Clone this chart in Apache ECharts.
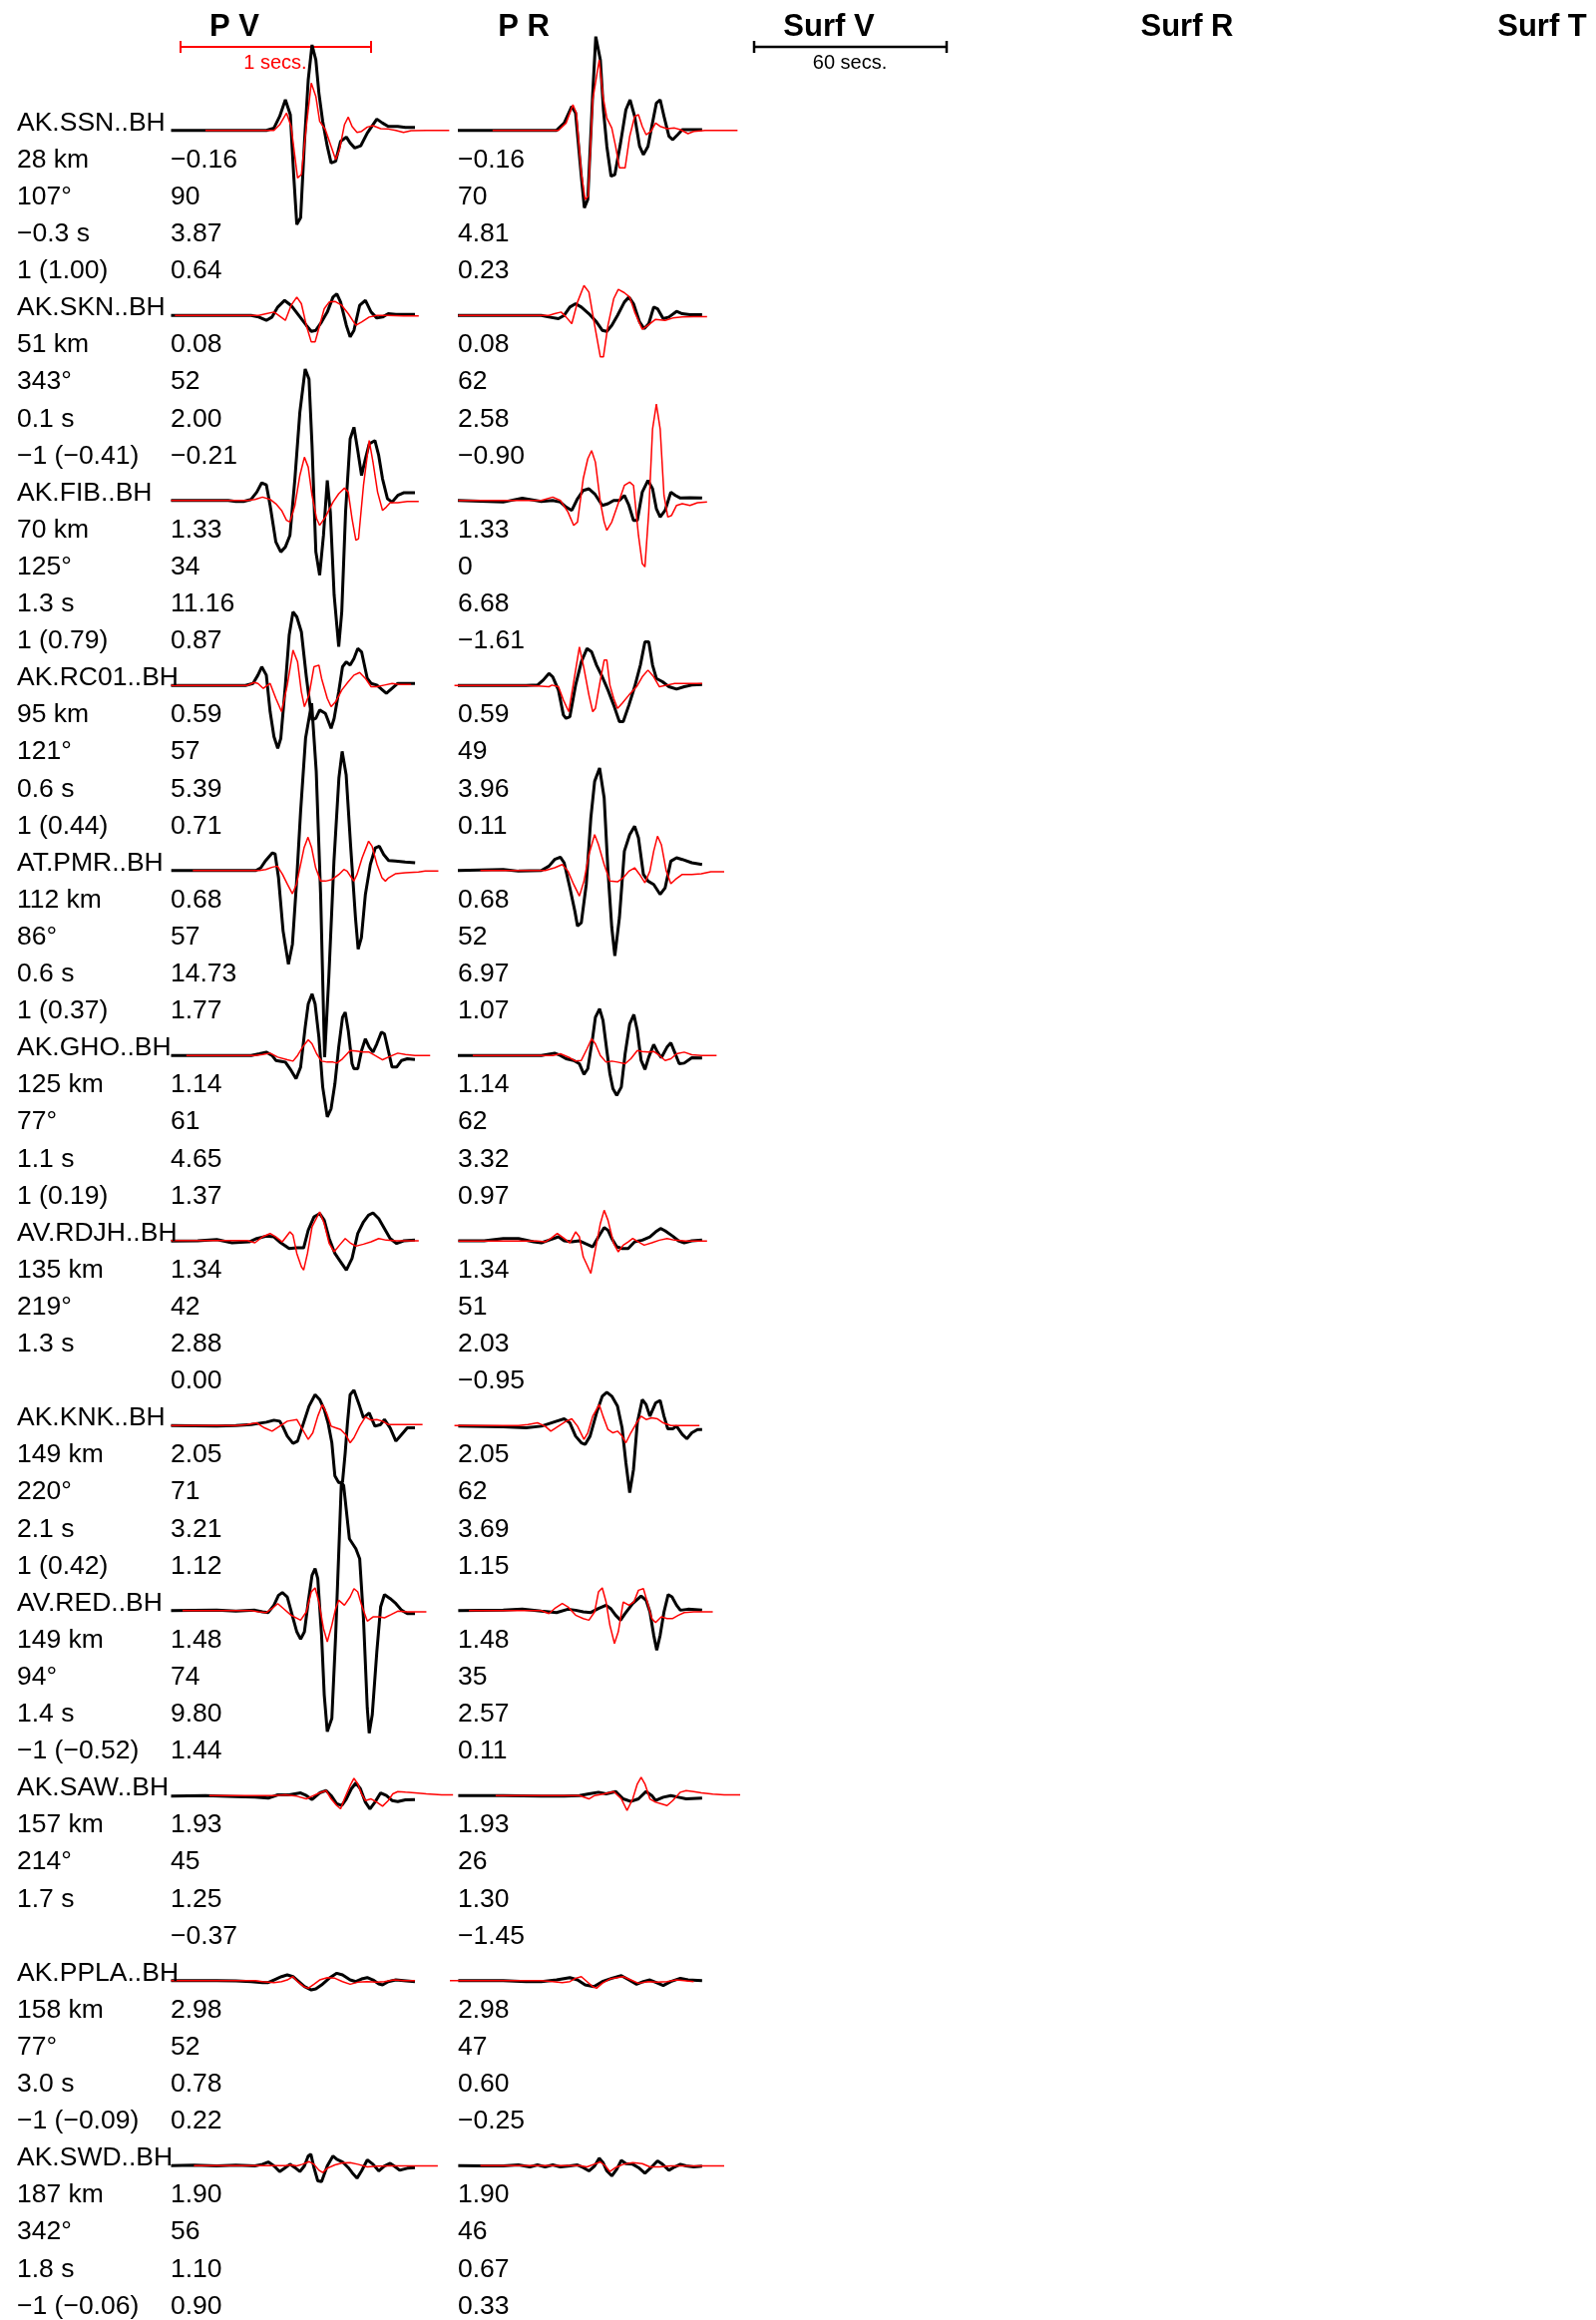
<!DOCTYPE html>
<html>
<head>
<meta charset="utf-8">
<script src="https://cdn.jsdelivr.net/npm/echarts@6/dist/echarts.min.js"></script>
<style>
html,body{margin:0;padding:0;background:#fff;}
#chart{width:1600px;height:2326px;}
</style>
</head>
<body>
<div id="chart"></div>
<script>
// ---------- text data ----------
const stations  = ['AK.SSN..BH','AK.SKN..BH','AK.FIB..BH','AK.RC01..BH','AT.PMR..BH','AK.GHO..BH','AV.RDJH..BH','AK.KNK..BH','AV.RED..BH','AK.SAW..BH','AK.PPLA..BH','AK.SWD..BH'];
const distances = ['28 km','51 km','70 km','95 km','112 km','125 km','135 km','149 km','149 km','157 km','158 km','187 km'];
const azimuths  = ['107°','343°','125°','121°','86°','77°','219°','220°','94°','214°','77°','342°'];
const shifts    = ['−0.3 s','0.1 s','1.3 s','0.6 s','0.6 s','1.1 s','1.3 s','2.1 s','1.4 s','1.7 s','3.0 s','1.8 s'];
const polarity  = ['1 (1.00)','−1 (−0.41)','1 (0.79)','1 (0.44)','1 (0.37)','1 (0.19)','','1 (0.42)','−1 (−0.52)','','−1 (−0.09)','−1 (−0.06)'];
const pvVals = [['−0.16','90','3.87','0.64'],['0.08','52','2.00','−0.21'],['1.33','34','11.16','0.87'],['0.59','57','5.39','0.71'],['0.68','57','14.73','1.77'],['1.14','61','4.65','1.37'],['1.34','42','2.88','0.00'],['2.05','71','3.21','1.12'],['1.48','74','9.80','1.44'],['1.93','45','1.25','−0.37'],['2.98','52','0.78','0.22'],['1.90','56','1.10','0.90']];
const prVals = [['−0.16','70','4.81','0.23'],['0.08','62','2.58','−0.90'],['1.33','0','6.68','−1.61'],['0.59','49','3.96','0.11'],['0.68','52','6.97','1.07'],['1.14','62','3.32','0.97'],['1.34','51','2.03','−0.95'],['2.05','62','3.69','1.15'],['1.48','35','2.57','0.11'],['1.93','26','1.30','−1.45'],['2.98','47','0.60','−0.25'],['1.90','46','0.67','0.33']];
const headers = ['P V','P R','Surf V','Surf R','Surf T'];

// ---------- waveform data: [time ms, amplitude] ----------
const SSN_PV_OBS=[[0,0],[500,0],[540,7],[570,42],[600,92],[626,47],[644,-138],[660,-283],[680,-263],[700,-38],[720,152],[740,257],[760,212],[776,112],[796,27],[820,-48],[840,-98],[864,-93],[890,-33],[920,-20],[940,-38],[964,-53],[996,-46],[1030,-8],[1080,34],[1110,22],[1140,12],[1190,12],[1230,9],[1280,9]];
const SSN_PV_SYN=[[180,0],[540,0],[570,17],[606,52],[630,12],[664,-143],[684,-133],[710,12],[736,142],[760,102],[780,27],[810,2],[840,-48],[864,-88],[884,-58],[910,17],[930,40],[950,12],[976,-6],[1000,-3],[1030,10],[1060,14],[1100,5],[1140,4],[1180,0],[1220,-6],[1260,-1],[1340,0],[1460,0]];
const SSN_PR_OBS=[[0,0],[518,0],[558,22],[598,72],[618,52],[648,-138],[664,-233],[682,-208],[708,112],[724,282],[748,212],[764,62],[782,-48],[804,-138],[824,-133],[854,-38],[882,62],[904,92],[928,42],[954,-48],[974,-73],[998,-48],[1018,12],[1042,82],[1062,92],[1082,42],[1108,-18],[1128,-28],[1154,-13],[1178,2],[1218,2],[1282,2]];
const SSN_PR_SYN=[[182,0],[528,0],[568,22],[604,77],[622,52],[648,-128],[668,-208],[684,-198],[708,92],[742,212],[762,102],[782,37],[808,7],[828,-48],[848,-113],[878,-113],[902,-18],[928,42],[948,47],[968,12],[988,-13],[1014,-3],[1038,22],[1062,12],[1098,5],[1138,7],[1168,2],[1208,-10],[1238,-3],[1298,0],[1468,0]];

const SKN_PV_OBS=[[0,0],[420,0],[460,-5],[500,-15],[530,-5],[560,25],[596,45],[630,30],[670,0],[710,-30],[736,-48],[760,-45],[790,-20],[820,10],[850,55],[870,65],[890,40],[920,-30],[940,-65],[960,-45],[990,30],[1020,45],[1050,10],[1080,-8],[1110,-5],[1140,5],[1180,3],[1280,3]];
const SKN_PV_SYN=[[20,0],[460,0],[500,5],[540,10],[564,0],[600,-15],[630,30],[660,55],[684,35],[710,-30],[736,-80],[756,-80],[780,-30],[804,20],[830,40],[860,42],[896,30],[930,5],[970,-30],[1000,-20],[1040,-5],[1080,0],[1140,0],[1220,-2],[1300,-2]];
const SKN_PR_OBS=[[0,0],[438,0],[478,-5],[528,-10],[558,0],[588,25],[618,35],[648,25],[688,5],[728,-20],[758,-45],[782,-48],[808,-30],[838,0],[874,40],[898,55],[922,35],[954,-20],[978,-40],[1002,-25],[1028,25],[1048,20],[1078,-10],[1108,-5],[1148,12],[1178,5],[1218,2],[1282,2]];
const SKN_PR_SYN=[[2,0],[478,0],[508,5],[542,10],[568,-5],[598,-25],[628,40],[662,90],[688,70],[718,-30],[748,-125],[764,-125],[788,-30],[818,50],[842,78],[874,68],[902,55],[928,10],[968,-42],[998,-30],[1038,-12],[1088,-15],[1128,-8],[1178,-5],[1238,-4],[1308,-4]];

const FIB_PV_OBS=[[0,0],[300,0],[340,-3],[380,-3],[420,3],[450,25],[476,53],[500,47],[520,-15],[550,-125],[576,-155],[600,-140],[624,-105],[650,65],[676,265],[704,395],[724,365],[740,165],[760,-155],[780,-225],[800,-105],[820,60],[836,-35],[856,-285],[880,-440],[896,-335],[916,-35],[940,185],[960,220],[980,150],[1000,75],[1020,125],[1040,170],[1070,180],[1090,135],[1110,65],[1136,5],[1160,-5],[1190,15],[1220,23],[1280,23]];
const FIB_PV_SYN=[[0,0],[400,0],[440,3],[480,10],[520,3],[550,-10],[580,-30],[606,-60],[624,-65],[650,-15],[676,75],[700,130],[720,100],[740,15],[764,-55],[780,-75],[810,-50],[850,-5],[880,20],[910,37],[930,25],[950,-55],[970,-120],[984,-115],[1010,45],[1040,180],[1060,115],[1084,25],[1110,-30],[1130,-20],[1150,-7],[1190,-7],[1240,-3],[1300,-3]];
const FIB_PR_OBS=[[0,0],[238,-5],[338,7],[438,-3],[498,0],[538,-5],[568,-20],[598,-30],[628,5],[658,30],[688,35],[718,20],[758,-15],[788,-10],[818,0],[848,0],[874,15],[898,-15],[922,-60],[942,-60],[968,25],[998,60],[1022,35],[1042,-25],[1062,-50],[1088,-30],[1118,25],[1142,15],[1168,7],[1218,8],[1282,7]];
const FIB_PR_SYN=[[2,0],[438,0],[498,10],[538,0],[578,-35],[608,-75],[628,-65],[658,65],[682,125],[702,150],[722,115],[748,-5],[768,-65],[782,-90],[808,-65],[838,-15],[874,45],[902,55],[922,45],[948,-105],[968,-190],[982,-200],[1002,-35],[1022,215],[1042,290],[1062,215],[1082,15],[1102,-50],[1122,-45],[1148,-15],[1178,-10],[1218,-15],[1258,-7],[1308,-5]];

const RC01_PV_OBS=[[0,0],[390,0],[430,6],[456,31],[476,56],[500,31],[520,-79],[540,-154],[560,-189],[576,-159],[600,1],[620,151],[640,221],[660,206],[684,161],[710,26],[730,-64],[740,-104],[760,-99],[780,-74],[810,-84],[840,-129],[856,-99],[880,-19],[900,56],[920,71],[940,61],[960,81],[980,111],[1000,101],[1030,21],[1050,6],[1080,1],[1110,-14],[1130,-24],[1160,-9],[1190,6],[1280,6]];
const RC01_PV_SYN=[[0,0],[400,0],[436,9],[456,6],[484,-9],[520,6],[550,-39],[580,-79],[610,1],[640,106],[664,71],[684,-19],[700,-64],[724,-29],[750,56],[776,61],[790,21],[820,-39],[840,-64],[864,-49],[896,-14],[930,11],[960,31],[990,39],[1020,21],[1050,-4],[1080,-4],[1120,1],[1160,6],[1200,3],[1260,3]];
const RC01_PR_OBS=[[0,0],[358,0],[418,1],[448,16],[478,36],[498,26],[528,-14],[554,-89],[568,-99],[588,-94],[618,1],[648,71],[678,111],[702,101],[728,61],[758,26],[788,-14],[818,-59],[848,-109],[868,-109],[898,-59],[928,-4],[958,61],[982,131],[1002,131],[1022,61],[1042,21],[1074,11],[1108,-4],[1148,-11],[1188,-4],[1228,1],[1282,3]];
const RC01_PR_SYN=[[-18,0],[358,0],[418,-2],[478,-4],[494,1],[528,-4],[554,-44],[582,-79],[608,11],[638,116],[662,51],[688,-29],[708,-79],[722,-69],[748,16],[768,76],[782,76],[798,1],[818,-39],[838,-69],[862,-54],[898,-29],[938,-4],[968,26],[998,46],[1028,26],[1058,-4],[1098,1],[1138,6],[1198,6],[1282,6]];

const PMR_PV_OBS=[[1,0],[445,0],[471,8],[497,30],[532,53],[546,50],[564,-22],[588,-182],[616,-282],[637,-222],[658,-42],[680,178],[706,398],[738,503],[762,298],[785,-72],[806,-562],[828,-322],[855,28],[881,278],[898,358],[919,288],[942,78],[968,-142],[982,-237],[999,-202],[1020,-72],[1046,18],[1072,68],[1093,73],[1116,48],[1142,30],[1177,28],[1229,25],[1281,23]];
const PMR_PV_SYN=[[114,0],[463,0],[497,3],[532,10],[558,13],[585,-12],[611,-42],[637,-70],[658,-42],[680,18],[698,68],[719,100],[738,68],[759,8],[785,-32],[811,-32],[846,-27],[881,-12],[907,3],[924,-2],[947,-22],[959,-32],[976,-12],[1003,38],[1037,88],[1055,73],[1081,18],[1107,-22],[1125,-32],[1142,-22],[1177,-10],[1229,-7],[1299,-5],[1334,-2],[1403,-2]];
const PMR_PR_OBS=[[0,0],[238,3],[318,-2],[438,0],[478,13],[508,33],[538,40],[558,23],[588,-52],[614,-122],[628,-167],[648,-157],[674,-42],[698,158],[718,268],[744,308],[768,218],[788,-2],[808,-172],[824,-257],[848,-142],[874,58],[902,108],[928,133],[948,98],[974,-12],[998,-32],[1028,-42],[1062,-72],[1088,-52],[1118,28],[1148,38],[1178,33],[1228,23],[1282,18]];
const PMR_PR_SYN=[[118,0],[458,0],[508,8],[548,18],[578,-2],[608,-42],[638,-77],[662,-32],[688,48],[718,108],[738,78],[768,18],[798,-32],[838,-34],[868,-22],[898,-2],[928,8],[954,-12],[982,-37],[1008,-2],[1028,58],[1048,103],[1068,78],[1094,-2],[1118,-40],[1142,-27],[1178,-12],[1228,-12],[1278,-10],[1328,-4],[1398,-4]];

const GHO_PV_OBS=[[0,0],[420,0],[464,5],[500,10],[530,0],[550,-15],[580,-18],[600,-20],[630,-45],[656,-70],[680,-35],[704,85],[720,155],[740,185],[756,155],[776,55],[796,-95],[820,-185],[840,-160],[860,-85],[880,25],[900,115],[914,130],[930,75],[950,-25],[960,-40],[980,-40],[1000,15],[1020,50],[1040,25],[1060,10],[1080,35],[1104,70],[1120,65],[1140,15],[1160,-35],[1184,-35],[1210,-15],[1240,-10],[1280,-12]];
const GHO_PV_SYN=[[80,0],[440,0],[480,3],[520,7],[560,-5],[610,-13],[640,-17],[664,0],[690,25],[720,47],[740,35],[764,5],[790,-17],[820,-20],[850,-20],[870,-23],[900,-10],[940,15],[970,13],[1010,10],[1040,10],[1070,0],[1110,-13],[1140,-5],[1190,7],[1230,3],[1280,0],[1360,0]];
const GHO_PR_OBS=[[0,0],[438,0],[508,7],[538,0],[568,-10],[608,-15],[638,-25],[662,-57],[682,-40],[708,55],[722,115],[744,140],[762,105],[782,15],[798,-55],[814,-100],[834,-120],[858,-95],[878,5],[902,95],[924,123],[942,75],[962,-15],[982,-42],[1002,-5],[1028,33],[1048,10],[1068,-7],[1098,25],[1118,38],[1138,10],[1162,-25],[1188,-23],[1228,-7],[1282,-8]];
const GHO_PR_SYN=[[78,0],[498,0],[538,5],[588,-7],[618,-17],[648,-15],[678,20],[702,50],[722,35],[748,0],[778,-20],[808,-17],[838,-20],[878,-25],[908,-10],[942,15],[968,12],[998,10],[1028,12],[1058,0],[1088,-15],[1118,-10],[1148,5],[1188,10],[1228,2],[1278,0],[1358,0]];

const RDJH_PV_OBS=[[0,-2],[140,-1],[240,3],[320,-7],[410,-4],[450,6],[500,13],[540,11],[576,-7],[620,-24],[660,-22],[696,-22],[720,31],[750,71],[780,81],[804,61],[830,6],[860,-39],[890,-64],[920,-89],[950,-54],[980,21],[1010,56],[1036,76],[1060,83],[1090,66],[1120,36],[1150,6],[1184,-9],[1220,-1],[1280,1]];
const RDJH_PV_SYN=[[0,0],[400,0],[440,-7],[480,11],[520,21],[550,11],[584,-4],[624,26],[640,16],[660,-39],[684,-79],[696,-89],[716,-39],[740,41],[780,86],[804,51],[830,-9],[856,-34],[884,-14],[914,6],[940,-7],[970,-17],[1010,-11],[1050,-4],[1090,6],[1130,1],[1180,-1],[1300,-1]];
const RDJH_PR_OBS=[[2,-1],[138,-1],[238,6],[318,6],[398,-4],[438,-7],[478,1],[528,11],[558,-1],[598,-4],[638,-1],[668,-9],[708,-19],[738,11],[768,39],[788,31],[808,6],[834,-19],[862,-24],[894,-24],[928,-4],[968,1],[1008,11],[1038,26],[1064,36],[1088,29],[1128,13],[1158,-1],[1188,-7],[1228,-1],[1282,1]];
const RDJH_PR_SYN=[[2,-2],[418,-2],[458,-4],[488,6],[522,21],[558,6],[588,-7],[618,26],[638,11],[658,-49],[682,-79],[698,-99],[718,-39],[748,51],[768,91],[788,61],[818,-9],[842,-34],[868,-14],[894,-4],[918,6],[948,-4],[978,-14],[1018,-7],[1058,1],[1098,6],[1138,1],[1198,-2],[1308,-2]];

const KNK_PV_OBS=[[0,0],[240,-2],[340,0],[420,3],[500,10],[540,16],[570,13],[590,-7],[610,-32],[640,-54],[664,-47],[690,-2],[724,58],[756,93],[780,78],[804,48],[824,8],[844,-52],[860,-152],[880,-172],[900,-170],[914,-82],[926,8],[940,93],[960,106],[990,58],[1010,23],[1040,38],[1070,-2],[1100,3],[1120,18],[1150,-7],[1180,-47],[1210,-27],[1240,-7],[1280,-7]];
const KNK_PV_SYN=[[0,0],[340,0],[400,3],[450,8],[490,-7],[530,-17],[570,-2],[610,13],[660,18],[690,-12],[720,-42],[744,-22],[770,28],[794,63],[816,38],[840,-2],[864,-7],[890,-12],[916,-27],[940,-52],[960,-37],[990,-2],[1020,26],[1050,16],[1080,18],[1110,13],[1140,3],[1180,3],[1240,3],[1320,3]];
const KNK_PR_OBS=[[2,-2],[238,-4],[358,-7],[438,-2],[518,13],[558,20],[588,8],[618,-32],[648,-52],[668,-57],[694,-32],[728,38],[758,88],[782,100],[808,88],[838,58],[862,-7],[882,-112],[902,-202],[922,-132],[942,8],[968,78],[988,63],[1008,28],[1038,68],[1062,75],[1082,28],[1102,-10],[1128,-10],[1148,-2],[1178,-27],[1202,-40],[1228,-22],[1258,-12],[1282,-12]];
const KNK_PR_SYN=[[-18,0],[318,0],[368,3],[418,8],[458,-2],[488,-17],[528,-2],[568,13],[598,20],[628,-2],[662,-42],[682,-22],[708,28],[742,63],[762,28],[788,-12],[814,-22],[838,-17],[862,-32],[882,-52],[908,-22],[938,8],[962,28],[988,18],[1018,23],[1048,20],[1078,8],[1118,0],[1178,0],[1268,0]];

const RED_PV_OBS=[[0,0],[240,1],[340,-2],[440,1],[480,-4],[510,-6],[540,16],[564,46],[584,54],[610,41],[636,-14],[660,-64],[680,-86],[700,-64],[720,26],[740,106],[756,126],[770,96],[790,-74],[804,-254],[820,-364],[844,-324],[864,-74],[894,386],[906,376],[936,216],[970,186],[990,156],[1010,-24],[1030,-294],[1040,-369],[1056,-314],[1080,-124],[1100,11],[1120,48],[1150,36],[1180,21],[1210,1],[1240,-9],[1280,-9]];
const RED_PV_SYN=[[60,0],[420,0],[460,-4],[500,-6],[530,6],[560,21],[590,6],[630,-14],[680,-29],[710,-4],[736,56],[756,68],[776,26],[800,-54],[820,-94],[844,-44],[864,6],[880,31],[910,16],[940,41],[960,66],[980,56],[1000,16],[1030,-32],[1060,-19],[1090,-19],[1120,-22],[1156,-12],[1190,-2],[1240,-4],[1340,-4]];
const RED_PR_OBS=[[2,0],[238,1],[338,4],[438,-2],[518,-6],[578,4],[618,1],[658,-4],[698,-6],[738,6],[778,16],[802,6],[828,-14],[854,-29],[878,-9],[918,21],[962,44],[988,31],[1008,-4],[1028,-74],[1044,-119],[1062,-74],[1082,-4],[1104,48],[1124,41],[1148,16],[1168,1],[1208,4],[1282,1]];
const RED_PR_SYN=[[58,0],[438,0],[478,-9],[508,6],[548,21],[578,11],[618,-14],[658,-24],[688,-29],[718,-4],[738,56],[758,68],[778,26],[798,-44],[822,-99],[842,-64],[868,26],[898,16],[924,26],[948,61],[974,66],[994,26],[1018,-24],[1038,-36],[1068,-19],[1098,-24],[1128,-24],[1158,-14],[1188,-6],[1238,-4],[1338,-4]];

const SAW_PV_OBS=[[0,-2],[180,0],[340,-3],[440,-5],[510,-8],[560,2],[620,2],[680,8],[710,0],[740,-12],[780,8],[814,15],[840,0],[870,-25],[896,-30],[920,-10],[946,20],[970,38],[994,20],[1020,-20],[1044,-40],[1070,-20],[1100,8],[1130,0],[1160,-15],[1190,-18],[1230,-13],[1280,-12]];
const SAW_PV_SYN=[[200,0],[540,0],[600,2],[660,-2],[710,-10],[740,-2],[780,8],[814,15],[840,-10],[870,-30],[890,-40],[910,-10],[940,30],[960,52],[980,35],[1000,5],[1020,-15],[1050,-10],[1080,-20],[1110,-32],[1140,-15],[1164,5],[1190,12],[1230,10],[1280,8],[1340,5],[1420,2],[1480,2]];
const SAW_PR_OBS=[[2,0],[238,0],[438,-2],[558,-2],[638,0],[688,5],[738,10],[778,5],[828,12],[868,-10],[908,-18],[948,-10],[988,12],[1018,0],[1038,-15],[1078,-5],[1118,0],[1158,-5],[1198,-10],[1282,-8]];
const SAW_PR_SYN=[[198,0],[638,0],[688,-10],[718,0],[768,5],[818,12],[858,-10],[888,-45],[918,-10],[942,35],[962,55],[982,35],[1008,-10],[1038,-20],[1068,-25],[1098,-30],[1128,-15],[1168,10],[1198,15],[1238,12],[1278,8],[1338,4],[1398,2],[1482,2]];

const PPLA_PV_OBS=[[0,0],[240,0],[340,-1],[420,-3],[480,-6],[510,-6],[540,2],[580,12],[610,17],[640,12],[670,-3],[700,-18],[736,-28],[760,-25],[790,-13],[830,7],[870,22],[900,17],[940,2],[970,-3],[1000,5],[1030,9],[1060,2],[1090,-10],[1110,-13],[1140,-3],[1180,2],[1220,0],[1280,-3]];
const PPLA_PV_SYN=[[0,0],[440,0],[480,-3],[540,-6],[580,-3],[610,2],[640,12],[664,-3],[696,-18],[720,-23],[750,-11],[780,2],[820,9],[860,7],[900,-3],[940,-11],[980,-5],[1030,-3],[1080,-5],[1120,-3],[1170,2],[1220,0],[1280,0]];
const PPLA_PR_OBS=[[2,0],[238,0],[358,-3],[438,-3],[518,2],[588,9],[628,2],[668,-13],[714,-18],[758,-3],[808,7],[858,15],[898,2],[938,-11],[974,-3],[1008,2],[1038,-5],[1078,-15],[1118,-3],[1168,7],[1208,2],[1282,0]];
const PPLA_PR_SYN=[[-42,0],[438,0],[498,-3],[548,-6],[588,-3],[618,7],[648,12],[678,-3],[708,-18],[728,-23],[758,-8],[798,5],[838,9],[868,12],[908,2],[948,-8],[998,-3],[1048,-5],[1098,-3],[1148,2],[1188,0],[1238,-3]];

const SWD_PV_OBS=[[0,0],[120,1],[240,-1],[340,1],[440,-1],[480,4],[510,11],[540,-1],[570,-18],[600,-6],[624,4],[650,-6],[676,-18],[700,-1],[720,29],[734,34],[750,-6],[770,-46],[790,-48],[820,-1],[850,29],[870,19],[900,11],[930,-6],[950,-21],[976,-38],[1000,-16],[1030,17],[1060,4],[1090,-16],[1120,-1],[1150,7],[1170,-1],[1200,-14],[1240,-8],[1280,-6]];
const SWD_PV_SYN=[[120,0],[600,0],[630,2],[660,-1],[690,4],[724,12],[750,4],[776,-14],[796,-21],[820,-8],[860,2],[900,8],[940,9],[980,4],[1030,-4],[1080,-2],[1140,-1],[1220,-1],[1300,-1],[1400,-1]];
const SWD_PR_OBS=[[2,0],[138,-1],[238,-1],[318,2],[378,-4],[418,2],[458,-4],[498,2],[538,-4],[588,-1],[628,2],[658,-6],[688,-16],[718,-1],[742,22],[762,9],[782,-16],[808,-31],[834,-11],[858,16],[882,6],[918,4],[948,-6],[982,-23],[1014,-6],[1048,14],[1074,4],[1108,-14],[1138,-4],[1168,4],[1198,-1],[1238,-4],[1282,-2]];
const SWD_PR_SYN=[[118,0],[638,0],[678,-4],[714,4],[748,11],[774,-1],[798,-18],[828,-6],[868,4],[918,9],[968,6],[1008,-4],[1058,-4],[1118,-1],[1198,-1],[1278,-1],[1398,-1]];

const traces = [
  [SSN_PV_OBS,SSN_PV_SYN,SSN_PR_OBS,SSN_PR_SYN],
  [SKN_PV_OBS,SKN_PV_SYN,SKN_PR_OBS,SKN_PR_SYN],
  [FIB_PV_OBS,FIB_PV_SYN,FIB_PR_OBS,FIB_PR_SYN],
  [RC01_PV_OBS,RC01_PV_SYN,RC01_PR_OBS,RC01_PR_SYN],
  [PMR_PV_OBS,PMR_PV_SYN,PMR_PR_OBS,PMR_PR_SYN],
  [GHO_PV_OBS,GHO_PV_SYN,GHO_PR_OBS,GHO_PR_SYN],
  [RDJH_PV_OBS,RDJH_PV_SYN,RDJH_PR_OBS,RDJH_PR_SYN],
  [KNK_PV_OBS,KNK_PV_SYN,KNK_PR_OBS,KNK_PR_SYN],
  [RED_PV_OBS,RED_PV_SYN,RED_PR_OBS,RED_PR_SYN],
  [SAW_PV_OBS,SAW_PV_SYN,SAW_PR_OBS,SAW_PR_SYN],
  [PPLA_PV_OBS,PPLA_PV_SYN,PPLA_PR_OBS,PPLA_PR_SYN],
  [SWD_PV_OBS,SWD_PV_SYN,SWD_PR_OBS,SWD_PR_SYN]
];

// ---------- layout ----------
const PX_PER_MS = 191/1000;       // 1 s = 191 px
const T_MIN = -100, T_MAX = 1500;
const A_MIN = -300, A_MAX = 300;  // amplitude units, 3 per px (lines may extend beyond, clip off)
const GRID_H = 200;
const COL_LEFT = [171.5, 459];
const BASE0 = 130.7, ROW_STEP = 185.5;
const LINE0 = 123.4, LINE_STEP = 37.1;
const FONT = '"Liberation Sans", Arial, Helvetica, sans-serif';

const grids = [], xAxes = [], yAxes = [], series = [];
let gi = 0;
for (let r = 0; r < traces.length; r++) {
  const base = BASE0 + r*ROW_STEP;
  for (let c = 0; c < 2; c++) {
    grids.push({left: COL_LEFT[c] + T_MIN*PX_PER_MS, top: base - GRID_H/2,
                width: (T_MAX - T_MIN)*PX_PER_MS, height: GRID_H, show:false,
                containLabel:false, outerBoundsMode:'none'});
    xAxes.push({gridIndex: gi, type:'value', min:T_MIN, max:T_MAX, show:false});
    yAxes.push({gridIndex: gi, type:'value', min:A_MIN, max:A_MAX, show:false});
    series.push({type:'line', xAxisIndex:gi, yAxisIndex:gi, data: traces[r][c*2],
                 showSymbol:false, symbol:'none', clip:false, silent:true, z:2,
                 lineStyle:{color:'#000000', width:3}});
    series.push({type:'line', xAxisIndex:gi, yAxisIndex:gi, data: traces[r][c*2+1],
                 showSymbol:false, symbol:'none', clip:false, silent:true, z:3,
                 lineStyle:{color:'#ff0000', width:1.5}});
    gi++;
  }
}

function txt(s, x, y, opts) {
  opts = opts || {};
  return {type:'text', x:x, y:y, silent:true, z:10,
    style:{text:s, fill:opts.color||'#000', font:(opts.weight||'normal')+' '+(opts.size||26.5)+'px '+FONT,
           align:opts.align||'left', verticalAlign:'middle',
           textAlign:opts.align||'left', textVerticalAlign:'middle'}};
}

const graphics = [];
// headers
const headerX = [235, 525, 831, 1190, 1546];
headers.forEach((h,i)=>graphics.push(txt(h, headerX[i], 27, {weight:'bold', size:31, align:'center'})));
// scale bars
function bar(x1, x2, y, color, w) {
  graphics.push({type:'line', silent:true, shape:{x1:x1,y1:y,x2:x2,y2:y}, style:{stroke:color, lineWidth:w}});
  graphics.push({type:'line', silent:true, shape:{x1:x1,y1:y-6,x2:x1,y2:y+6}, style:{stroke:color, lineWidth:w}});
  graphics.push({type:'line', silent:true, shape:{x1:x2,y1:y-6,x2:x2,y2:y+6}, style:{stroke:color, lineWidth:w}});
}
bar(181, 181 + 1000*PX_PER_MS, 47, '#ff0000', 2);
bar(756, 949, 47, '#000000', 2.5);
graphics.push(txt('1 secs.', 276, 63, {color:'#ff0000', size:20, align:'center'}));
graphics.push(txt('60 secs.', 852, 63, {size:20, align:'center'}));

// row texts
for (let r = 0; r < stations.length; r++) {
  const col1 = [stations[r], distances[r], azimuths[r], shifts[r], polarity[r]];
  for (let l = 0; l < 5; l++) {
    const y = LINE0 + LINE_STEP*(5*r + l);
    if (col1[l]) graphics.push(txt(col1[l], 17, y));
    if (l > 0) {
      graphics.push(txt(pvVals[r][l-1], 171, y));
      graphics.push(txt(prVals[r][l-1], 459, y));
    }
  }
}

const chart = echarts.init(document.getElementById('chart'), null, {renderer:'canvas', width:1600, height:2326});
chart.setOption({
  animation:false,
  backgroundColor:'#ffffff',
  grid: grids, xAxis: xAxes, yAxis: yAxes, series: series,
  graphic: graphics
});
</script>
</body>
</html>
